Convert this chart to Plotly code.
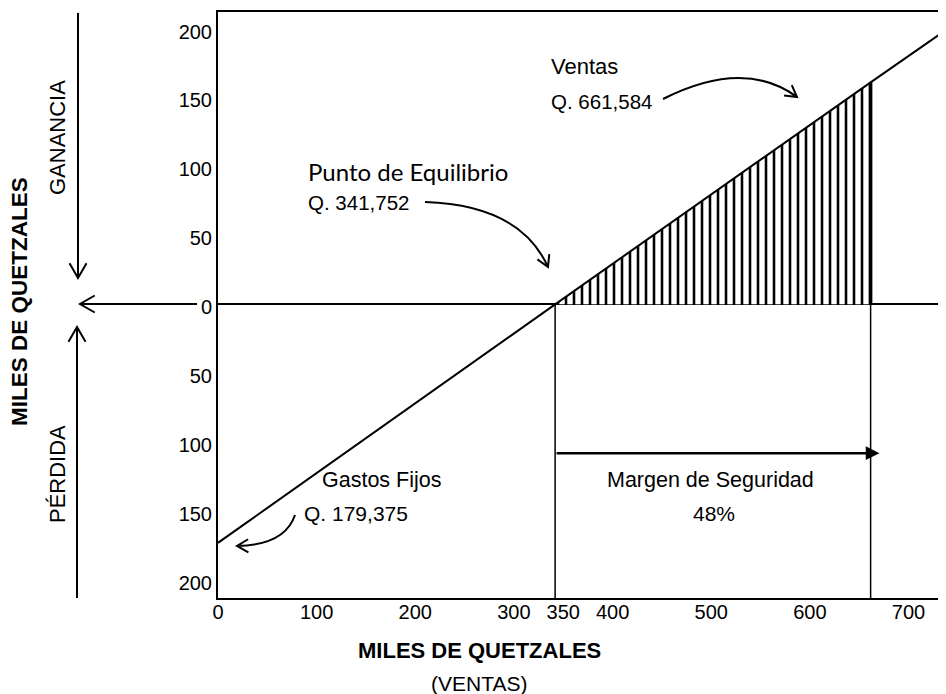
import math
import plotly.graph_objects as go

# ---------------- data (miles de quetzales) ----------------
breakeven_sales = 341.752
actual_sales = 661.584
fixed_costs = 179.375
safety_margin_pct = 48

# profit / loss line (sales -> result)
line_sales = [0, 341.752, 661.584, 738]
line_profit = [-173, 0, 161, 199]

x_tick_vals = [0, 100, 200, 300, 350, 400, 500, 600, 700]
x_tick_text = [str(v) for v in x_tick_vals]
y_tick_vals = [-200, -150, -100, -50, 0, 50, 100, 150, 200]
y_tick_text = [str(abs(v)) for v in y_tick_vals]

X_RANGE = [0, 738]
Y_RANGE = [-213, 212]

# ---------------- layout geometry ----------------
OFF = 8                      # page body margin of the browser
W, H = 946 - OFF, 694 - OFF
ML, MT = 218 - OFF, 12 - OFF
MR = 0
MB = H - (598 - OFF)
PW, PH = W - ML - MR, H - MT - MB
FONT = "Arial, Liberation Sans, sans-serif"
FS = 20


def P(px, py):
    """window pixel position -> paper coordinates"""
    return ((px - OFF - ML) / PW, (H - MB - (py - OFF)) / PH)


def pt(px, py):
    x, y = P(px, py)
    return f"{x:.5f},{y:.5f}"


def curve_arrow(p0, c, p1, head=13):
    path = f"M {pt(*p0)} Q {pt(*c)} {pt(*p1)}"
    dx, dy = p1[0] - c[0], p1[1] - c[1]
    n = math.hypot(dx, dy)
    dx, dy = dx / n, dy / n
    arms = []
    for s in (1, -1):
        a = math.radians(30) * s
        rx = dx * math.cos(a) - dy * math.sin(a)
        ry = dx * math.sin(a) + dy * math.cos(a)
        arms.append((p1[0] - head * rx, p1[1] - head * ry))
    path += f" M {pt(*arms[0])} L {pt(*p1)} L {pt(*arms[1])}"
    return path


def straight_arrow(p0, p1, head=15):
    mid = ((p0[0] + p1[0]) / 2, (p0[1] + p1[1]) / 2)
    return curve_arrow(p0, mid, p1, head)


fig = go.Figure()

# safety-margin hatched region
profit_at_sales = line_profit[line_sales.index(actual_sales)]
fig.add_trace(go.Scatter(
    x=[breakeven_sales, actual_sales], y=[0, profit_at_sales],
    mode="lines", line=dict(width=0, color="black"),
    fill="tozeroy", fillcolor="white",
    fillpattern=dict(shape="|", size=8, solidity=0.32,
                     fgcolor="black", bgcolor="white", fgopacity=1),
    hoverinfo="skip", showlegend=False))

# profit / loss line
fig.add_trace(go.Scatter(
    x=line_sales, y=line_profit, mode="lines",
    line=dict(color="black", width=2), showlegend=False))

shapes = []
# vertical lines at break-even and actual sales
for xv in (breakeven_sales, actual_sales):
    shapes.append(dict(type="line", xref="x", yref="y", x0=xv, x1=xv,
                       y0=Y_RANGE[0], y1=0, line=dict(color="black", width=1.5)))
shapes.append(dict(type="line", xref="x", yref="y", x0=actual_sales, x1=actual_sales,
                   y0=0, y1=profit_at_sales, line=dict(color="black", width=3.5)))

lw = dict(color="black", width=2)
# curved arrows
shapes.append(dict(type="path", xref="paper", yref="paper",
                   path=curve_arrow((663, 99), (744, 58), (797, 97)), line=lw))
shapes.append(dict(type="path", xref="paper", yref="paper",
                   path=curve_arrow((425, 202), (520, 205), (548, 267)), line=lw))
shapes.append(dict(type="path", xref="paper", yref="paper",
                   path=curve_arrow((295, 515), (285, 545), (237, 546)), line=lw))
# left-side arrows
shapes.append(dict(type="path", xref="paper", yref="paper",
                   path=straight_arrow((197, 304), (80, 304), 17), line=lw))
shapes.append(dict(type="path", xref="paper", yref="paper",
                   path=straight_arrow((78, 13), (78, 278), 17), line=lw))
shapes.append(dict(type="path", xref="paper", yref="paper",
                   path=straight_arrow((77, 598), (77, 327), 17), line=lw))

ann = []


def txt(text, px, py, anchor="left", size=21, bold=False, angle=0, family=FONT):
    x, y = P(px, py)
    ann.append(dict(text=f"<b>{text}</b>" if bold else text, x=x, y=y,
                    xref="paper", yref="paper", xanchor=anchor, yanchor="middle",
                    showarrow=False, textangle=angle,
                    font=dict(family=family, size=size, color="black")))


txt("Ventas", 549, 67, size=22)
txt(f"Q. {actual_sales * 1000:,.0f}", 549, 102, size=20.5)
txt("Punto de Equilibrio", 306, 171, size=24, family="Lato, Open Sans, sans-serif")
txt(f"Q. {breakeven_sales * 1000:,.0f}", 306, 203, size=20.5)
txt("Gastos Fijos", 320, 480, size=21.5)
txt(f"Q. {fixed_costs * 1000:,.0f}", 302, 513, size=21)
txt("Margen de Seguridad", 710, 480, anchor="center", size=21.5)
txt(f"{safety_margin_pct}%", 714, 513, anchor="center", size=21)
txt("MILES DE QUETZALES", 479, 650, anchor="center", bold=True, size=22)
txt("(VENTAS)", 479, 683, anchor="center")
txt("MILES DE QUETZALES", 19, 302, anchor="center", bold=True, angle=-90, size=22.5)
txt("GANANCIA", 57, 138, anchor="center", angle=-90, size=22)
txt("PÉRDIDA", 57, 474, anchor="center", angle=-90, size=22)

# safety margin straight arrow (data coordinates)
ann.append(dict(x=actual_sales + 9, y=-108, ax=breakeven_sales, ay=-108,
                xref="x", yref="y", axref="x", ayref="y", text="",
                showarrow=True, arrowhead=2, arrowsize=1.1, arrowwidth=2.5,
                arrowcolor="black"))

fig.update_layout(
    width=W, height=H, margin=dict(l=ML, r=MR, t=MT, b=MB, pad=0),
    paper_bgcolor="white", plot_bgcolor="white",
    shapes=shapes, annotations=ann, showlegend=False,
    font=dict(family=FONT, size=FS, color="black"),
    xaxis=dict(range=X_RANGE, tickvals=x_tick_vals, ticktext=x_tick_text,
               showgrid=False, zeroline=False, showline=True, mirror=True,
               linecolor="black", linewidth=2, ticks="", ticklabelstandoff=-5,
               tickfont=dict(family=FONT, size=FS, color="black")),
    yaxis=dict(range=Y_RANGE, tickvals=y_tick_vals, ticktext=y_tick_text,
               showgrid=False, zeroline=True, zerolinecolor="black", zerolinewidth=2,
               showline=True, mirror=False, linecolor="black", linewidth=2,
               ticks="", ticklabelshift=3,
               tickfont=dict(family=FONT, size=FS, color="black")),
)

fig.write_html("out.html")
